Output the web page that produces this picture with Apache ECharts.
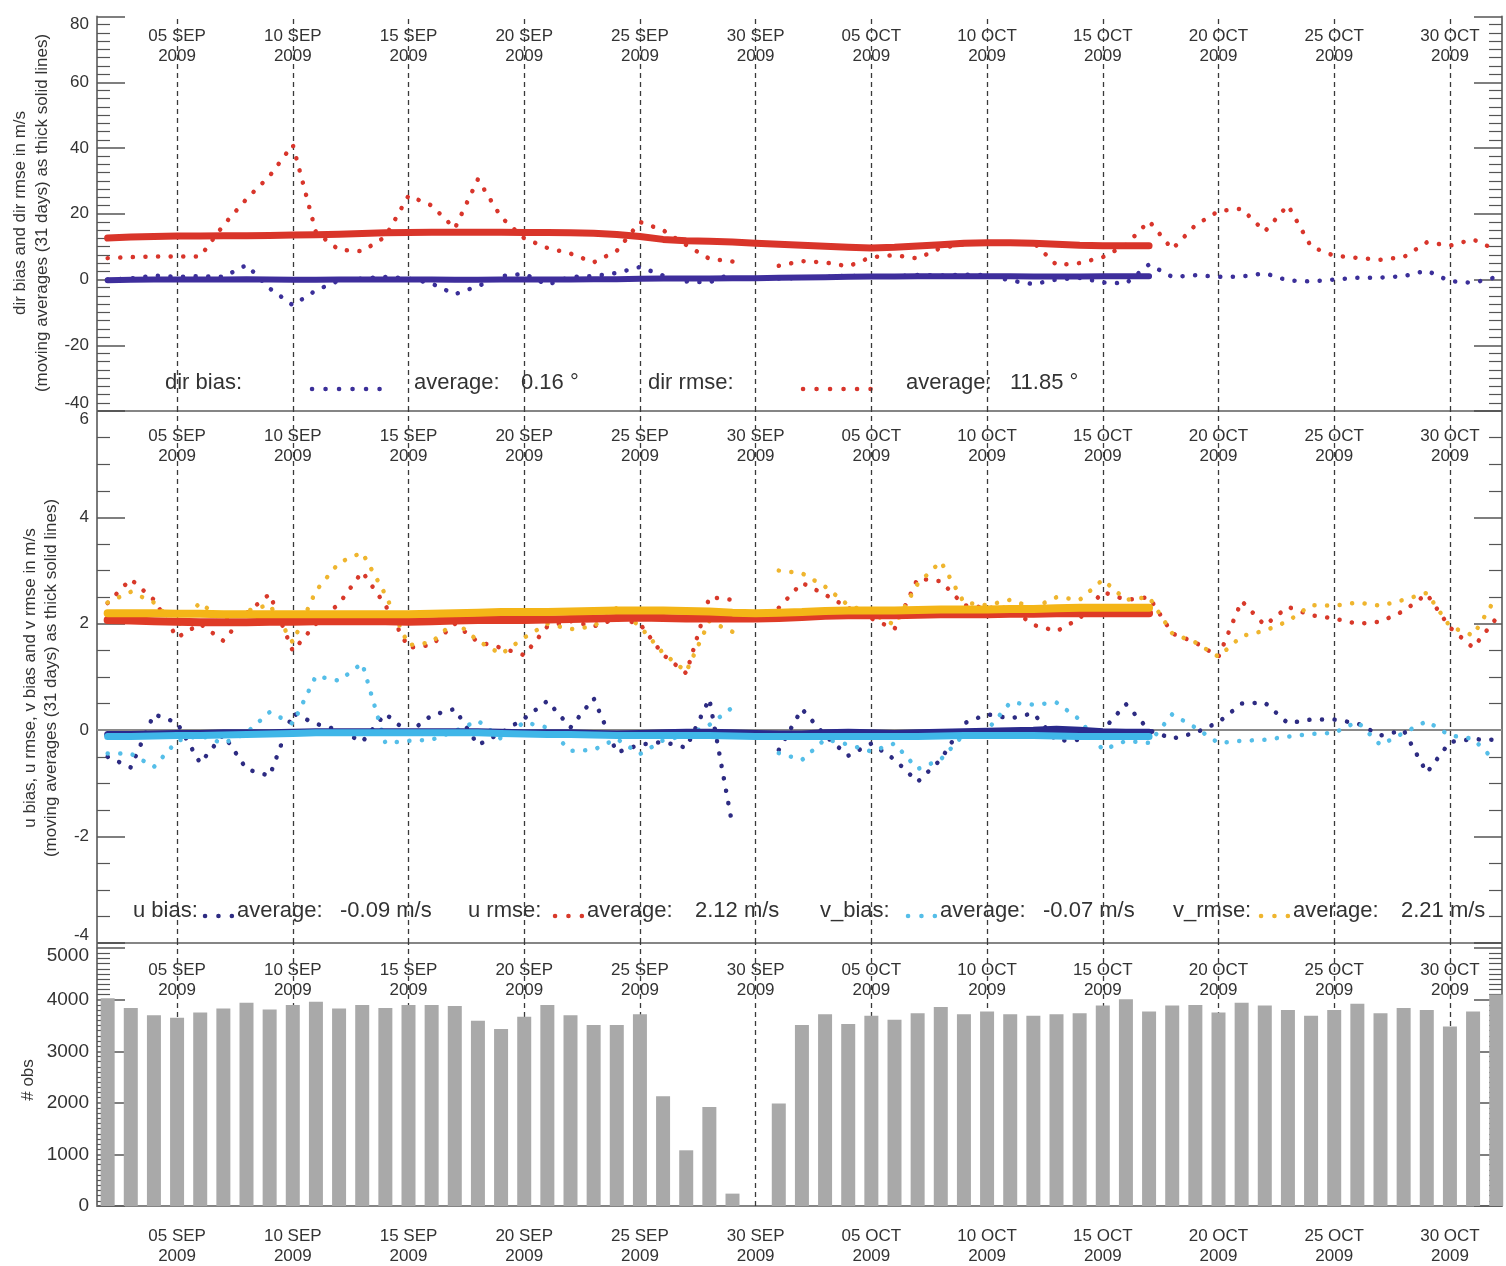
<!DOCTYPE html>
<html>
<head>
<meta charset="utf-8">
<script src="https://cdn.jsdelivr.net/npm/echarts@6/dist/echarts.min.js"></script>
<style>
  html, body { margin: 0; padding: 0; background: #fff; }
  #chart { width: 1506px; height: 1266px; }
</style>
</head>
<body>
<div id="chart"></div>
<script>
// day numbers: 1 = 01 SEP 2009, 31 = 01 OCT 2009, 62 = 01 NOV 2009
var days = [2,3,4,5,6,7,8,9,10,11,12,13,14,15,16,17,18,19,20,21,22,23,24,25,26,27,28,29,30,31,
            32,33,34,35,36,37,38,39,40,41,42,43,44,45,46,47,48,49,50,51,52,53,54,55,56,57,58,59,60,61,62];
var tickDays = [5,10,15,20,25,30,35,40,45,50,55,60];
var tickLabels = ['05 SEP','10 SEP','15 SEP','20 SEP','25 SEP','30 SEP','05 OCT','10 OCT','15 OCT','20 OCT','25 OCT','30 OCT'];

// panel 1: wind direction
var dirBias = [0.0,0.3,1.2,0.8,1.0,0.8,4.4,-2.7,-7.8,-3.3,
  -0.3,0.3,0.8,0.3,-1.2,-4.5,-2.0,1.0,1.7,-1.6,
  0.8,1.0,2.0,3.8,1.2,-0.6,-0.9,1.9,null,0.3,
  0.5,0.8,1.2,0.8,1.0,1.4,1.2,1.5,1.3,-0.3,
  -1.4,0.0,0.5,-0.9,-1.2,4.6,0.8,1.3,0.8,0.9,
  1.9,-0.3,-0.6,0.0,0.5,0.6,1.0,2.7,-0.5,-1.0,
  0.7];
var dirRmse = [6.5,6.8,7.0,7.0,7.0,16.5,24.5,31.5,41.0,14.4,
  9.0,8.6,13.0,25.5,22.5,15.5,30.5,19.0,12.5,9.6,
  7.9,5.2,8.7,17.5,15.0,10.5,6.3,5.5,null,4.2,
  5.6,5.2,4.0,6.8,7.4,6.4,9.6,10.7,11.2,11.3,
  11.3,4.4,5.0,6.8,10.5,17.8,9.2,16.5,20.8,21.5,
  14.6,22.6,10.0,7.2,6.6,6.0,6.8,11.3,10.3,12.2,
  9.0];
// 31 day moving averages, 02 SEP .. 17 OCT
var dirBiasMA = [-0.2,-0.1,0,0,0,0,0.1,0,-0.1,-0.1,0,0,0,0,0,-0.1,-0.1,0,0,0,0,0.1,0.1,0.2,0.3,
  0.3,0.3,0.4,0.4,0.5,0.6,0.7,0.8,0.9,0.9,1.0,1.0,1.0,1.0,1.0,0.9,0.9,0.9,1.0,1.0,1.0];
var dirRmseMA = [12.6,12.9,13.1,13.2,13.2,13.3,13.3,13.4,13.5,13.6,13.8,14.0,14.2,14.3,14.4,14.4,14.4,14.4,14.3,14.3,
  14.2,14.1,13.7,13.1,12.2,11.8,11.6,11.4,11.0,10.7,10.4,10.1,9.8,9.6,9.8,10.2,10.6,11.0,11.2,11.2,
  11.0,10.7,10.4,10.3,10.3,10.3];

// panel 2: u / v components
var uBias = [-0.5,-0.7,0.3,0.14,-0.62,-0.08,-0.73,-0.86,0.32,0.12,
  0.0,-0.22,0.31,-0.05,0.28,0.4,-0.28,-0.05,0.22,0.55,
  0.05,0.6,-0.42,-0.27,-0.22,-0.33,0.59,-1.8,null,-0.37,
  0.4,-0.1,-0.48,-0.25,-0.55,-0.97,-0.55,0.13,0.3,0.22,
  0.32,-0.2,-0.18,0.0,0.49,0.0,-0.16,-0.05,0.15,0.5,
  0.52,0.13,0.2,0.2,0.13,-0.1,0.0,-0.8,-0.22,-0.17,
  -0.18];
var uRmse = [2.39,2.84,2.45,1.74,2.0,1.68,2.2,2.56,1.49,2.0,
  2.38,2.98,2.35,1.55,1.6,2.0,1.66,1.55,1.41,1.95,
  2.05,1.95,2.1,2.0,1.42,1.07,2.5,2.45,null,2.3,
  2.77,2.55,2.3,2.1,1.9,2.85,2.8,2.35,2.3,2.3,
  1.98,1.86,2.1,2.6,2.45,2.5,1.82,1.65,1.38,2.43,
  1.97,2.32,2.16,2.1,2.0,2.04,2.24,2.56,1.93,1.55,
  2.1];
var vBias = [-0.44,-0.44,-0.69,-0.2,-0.1,-0.25,-0.05,0.34,0.12,1.02,
  0.93,1.26,-0.24,-0.2,-0.18,-0.02,0.18,-0.16,0.15,0.05,
  -0.39,-0.37,-0.16,-0.45,-0.19,-0.1,0.1,0.43,null,-0.43,
  -0.56,-0.17,-0.27,-0.4,-0.25,-0.73,-0.55,-0.08,0.0,0.52,
  0.48,0.52,0.2,-0.37,-0.2,-0.24,0.3,0.05,-0.24,-0.2,
  -0.18,-0.12,-0.07,-0.05,0.16,-0.28,-0.05,0.17,-0.1,-0.16,
  -0.6];
var vRmse = [2.4,2.6,2.4,1.95,2.4,2.05,2.24,2.36,1.65,2.62,
  3.15,3.34,2.55,1.6,1.65,2.05,1.68,1.43,1.74,2.0,
  1.9,1.95,2.3,1.95,1.45,1.1,2.05,1.85,null,3.0,
  2.95,2.7,2.35,2.2,1.98,2.75,3.17,2.4,2.35,2.45,
  2.3,2.5,2.45,2.83,2.45,2.5,1.82,1.65,1.38,1.77,
  1.87,2.05,2.35,2.34,2.4,2.34,2.45,2.58,1.95,1.78,
  2.5];
var uBiasMA = [-0.08,-0.08,-0.07,-0.06,-0.06,-0.05,-0.05,-0.05,-0.04,-0.03,-0.03,-0.03,-0.03,-0.03,-0.03,-0.03,-0.03,-0.04,-0.05,-0.05,
  -0.05,-0.06,-0.07,-0.06,-0.05,-0.04,-0.04,-0.05,-0.06,-0.07,-0.07,-0.05,-0.04,-0.05,-0.06,-0.05,-0.04,-0.03,-0.02,-0.01,
  0.0,0.02,0.0,-0.03,-0.04,-0.04];
var uRmseMA = [2.07,2.06,2.05,2.04,2.03,2.03,2.03,2.04,2.04,2.05,2.05,2.05,2.05,2.04,2.05,2.06,2.07,2.07,2.07,2.08,
  2.09,2.1,2.11,2.12,2.11,2.1,2.1,2.1,2.1,2.11,2.13,2.15,2.16,2.16,2.16,2.17,2.18,2.18,2.18,2.19,
  2.19,2.2,2.2,2.2,2.2,2.2];
var vBiasMA = [-0.12,-0.12,-0.11,-0.1,-0.1,-0.09,-0.08,-0.07,-0.06,-0.05,-0.05,-0.05,-0.05,-0.05,-0.05,-0.05,-0.05,-0.06,-0.07,-0.08,
  -0.08,-0.09,-0.1,-0.1,-0.1,-0.1,-0.1,-0.11,-0.12,-0.12,-0.12,-0.12,-0.12,-0.12,-0.12,-0.12,-0.11,-0.1,-0.1,-0.1,
  -0.1,-0.11,-0.12,-0.12,-0.12,-0.12];
var vRmseMA = [2.2,2.2,2.2,2.19,2.19,2.18,2.18,2.18,2.18,2.18,2.18,2.18,2.18,2.18,2.19,2.2,2.21,2.22,2.22,2.22,
  2.23,2.24,2.25,2.25,2.25,2.24,2.23,2.21,2.2,2.21,2.22,2.24,2.25,2.25,2.25,2.26,2.27,2.27,2.27,2.28,
  2.28,2.29,2.3,2.3,2.3,2.3];

// panel 3: number of observations per day
var nObs = [4030,3840,3700,3650,3750,3830,3940,3810,3900,3960,
  3830,3900,3840,3900,3900,3880,3590,3430,3670,3900,
  3700,3510,3510,3720,2130,1080,1920,240,0,1990,
  3510,3720,3530,3690,3610,3740,3860,3720,3770,3720,
  3690,3720,3740,3890,4010,3770,3890,3900,3750,3940,
  3890,3800,3690,3800,3920,3740,3840,3800,3480,3770,
  4100];

var XMIN = 1.54, XMAX = 62.25;
var FONT = '"Liberation Sans", Arial, Helvetica, sans-serif';
var TXT = '#333';

function pairs(vals) {
  return vals.map(function (v, i) { return [days[i], v == null ? '-' : v]; });
}
function dayLabel(v) {
  var i = tickDays.indexOf(Math.round(v));
  return i < 0 ? '' : tickLabels[i] + '\n2009';
}

function topAxis(g, margin) {
  return {
    gridIndex: g, type: 'value', min: XMIN, max: XMAX, position: 'top',
    axisLine: {show: false}, axisTick: {show: false}, splitLine: {show: false},
    axisLabel: {inside: true, customValues: tickDays, formatter: dayLabel, margin: margin,
      fontFamily: FONT, fontSize: 17, lineHeight: 20, color: TXT}
  };
}
function bottomAxis(g, labels) {
  return {
    gridIndex: g, type: 'value', min: XMIN, max: XMAX, position: 'bottom',
    axisLine: {show: true, onZero: false, lineStyle: {color: '#858585', width: 2}},
    axisTick: {show: false}, splitLine: {show: false},
    axisLabel: labels ? {customValues: tickDays, formatter: dayLabel, margin: 20,
      fontFamily: FONT, fontSize: 17, lineHeight: 20, color: TXT} : {show: false}
  };
}
function yAx(g, side, min, max, step, minorSplit, fontSize, fmt) {
  return {
    gridIndex: g, type: 'value', position: side, min: min, max: max, interval: step,
    axisLine: {show: true, onZero: false, lineStyle: {color: '#7a7a7a', width: 2}},
    axisTick: {show: true, inside: true, length: 28, lineStyle: {color: '#555', width: 1.5}},
    minorTick: {show: true, splitNumber: minorSplit, length: 13, lineStyle: {color: '#555', width: 1.2}},
    splitLine: {show: false},
    axisLabel: side === 'left' ? {formatter: fmt, margin: 8, fontFamily: FONT, fontSize: fontSize,
      lineHeight: 16, color: TXT} : {show: false}
  };
}
function vLines() {
  return tickDays.map(function (d) { return {xAxis: d}; });
}
function dotted(name, xi, yi, vals, color) {
  return {
    name: name, type: 'line', xAxisIndex: xi, yAxisIndex: yi, data: pairs(vals),
    showSymbol: false, z: 3, silent: true,
    lineStyle: {color: color, width: 4.5, type: [0.1, 12.5], cap: 'round'}
  };
}
function thick(name, xi, yi, vals, color, w) {
  return {
    name: name, type: 'line', xAxisIndex: xi, yAxisIndex: yi, data: pairs(vals),
    showSymbol: false, z: 4, silent: true,
    lineStyle: {color: color, width: w, cap: 'round', join: 'round'}
  };
}
function dashMarks(extra) {
  return {
    silent: true, symbol: 'none', z: 1, animation: false, label: {show: false},
    emphasis: {disabled: true},
    lineStyle: {color: '#3a3a3a', width: 1.3, type: [5, 4]},
    data: vLines().concat(extra || [])
  };
}

var chart = echarts.init(document.getElementById('chart'));

var s1 = dotted('dir rmse', 0, 0, dirRmse, '#d8352b');
s1.markLine = dashMarks();
var s2 = dotted('u bias', 2, 2, uBias, '#2d2b82');
s2.markLine = dashMarks([{yAxis: 0, lineStyle: {color: '#8a8a8a', width: 2, type: 'solid'}}]);

var legendFont = '22px ' + FONT;
function label(x, y, text) {
  return {type: 'text', x: x, y: y, silent: true,
    style: {text: text, font: legendFont, fill: TXT, verticalAlign: 'middle'}};
}
function sample(x1, x2, y, color, gap) {
  return {type: 'line', silent: true, shape: {x1: x1, y1: y, x2: x2, y2: y},
    style: {stroke: color, lineWidth: 4.5, lineDash: [0.1, gap], lineCap: 'round'}};
}

var option = {
  backgroundColor: '#fff',
  animation: false,
  textStyle: {fontFamily: FONT},
  grid: [
    {left: 97, right: 4, top: 9, height: 402},
    {left: 97, right: 4, top: 411, height: 532},
    {left: 97, right: 4, top: 943, height: 266}
  ],
  xAxis: [topAxis(0, 10), bottomAxis(0, false), topAxis(1, 15), bottomAxis(1, false), topAxis(2, 17), bottomAxis(2, true)],
  yAxis: [
    yAx(0, 'left', -40, 80, 20, 8, 17, function (v) {
      return v === 80 ? '\n80' : (v === -40 ? '-40\n' : String(v));
    }),
    yAx(0, 'right', -40, 80, 20, 8, 17),
    yAx(1, 'left', -4, 6, 2, 4, 17, function (v) {
      return v === 6 ? '\n6' : (v === -4 ? '-4\n' : String(v));
    }),
    yAx(1, 'right', -4, 6, 2, 4, 17),
    yAx(2, 'left', 0, 5100, 1000, 10, 19, function (v) {
      if (v % 1000 !== 0) return '';
      return v === 5000 ? '\n5000' : String(v);
    }),
    yAx(2, 'right', 0, 5100, 1000, 10, 19)
  ],
  series: [
    s1,
    dotted('dir bias', 0, 0, dirBias, '#3b2f99'),
    thick('dir rmse MA', 0, 0, dirRmseMA, '#d9352a', 7),
    thick('dir bias MA', 0, 0, dirBiasMA, '#3e2e9c', 6),

    s2,
    dotted('v bias', 2, 2, vBias, '#55bee8'),
    dotted('u rmse', 2, 2, uRmse, '#d8392a'),
    dotted('v rmse', 2, 2, vRmse, '#efb52e'),
    thick('u rmse MA', 2, 2, uRmseMA, '#df3b26', 8),
    thick('v rmse MA', 2, 2, vRmseMA, '#f4b517', 8),
    thick('u bias MA', 2, 2, uBiasMA, '#2a2a8c', 7),
    thick('v bias MA', 2, 2, vBiasMA, '#3fb6e8', 7),

    {
      name: '# obs', type: 'bar', xAxisIndex: 4, yAxisIndex: 4, data: pairs(nObs),
      barWidth: 14, z: 3, silent: true,
      itemStyle: {color: '#a9a9a9'},
      markLine: dashMarks()
    }
  ],
  graphic: [
    // axis names
    {type: 'text', x: 31, y: 213, rotation: Math.PI / 2, silent: true,
      style: {text: 'dir bias and dir rmse in m/s\n(moving averages (31 days) as thick solid lines)',
        font: '17px ' + FONT, fill: TXT, align: 'center', verticalAlign: 'middle', lineHeight: 22}},
    {type: 'text', x: 41, y: 678, rotation: Math.PI / 2, silent: true,
      style: {text: 'u bias, u rmse, v bias and v rmse in m/s\n(moving averages (31 days) as thick solid lines)',
        font: '17px ' + FONT, fill: TXT, align: 'center', verticalAlign: 'middle', lineHeight: 21}},
    {type: 'text', x: 28, y: 1080, rotation: Math.PI / 2, silent: true,
      style: {text: '# obs', font: '17px ' + FONT, fill: TXT, align: 'center', verticalAlign: 'middle'}},

    // panel 1 legend
    label(165, 383, 'dir bias:'),
    sample(312, 380, 389, '#3b2f99', 13.4),
    label(414, 383, 'average:'),
    label(521, 383, '0.16 \u00b0'),
    label(648, 383, 'dir rmse:'),
    sample(803, 871, 389, '#d8352b', 13.4),
    label(906, 383, 'average:'),
    label(1010, 383, '11.85 \u00b0'),

    // panel 2 legend
    label(133, 911, 'u bias:'),
    sample(205, 232, 916, '#2d2b82', 13.3),
    label(237, 911, 'average:'),
    label(340, 911, '-0.09 m/s'),
    label(468, 911, 'u rmse:'),
    sample(555, 582, 916, '#d8392a', 13.3),
    label(587, 911, 'average:'),
    label(695, 911, '2.12 m/s'),
    label(820, 911, 'v_bias:'),
    sample(908, 935, 916, '#55bee8', 13.3),
    label(940, 911, 'average:'),
    label(1043, 911, '-0.07 m/s'),
    label(1173, 911, 'v_rmse:'),
    sample(1261, 1288, 916, '#efb52e', 13.3),
    label(1293, 911, 'average:'),
    label(1401, 911, '2.21 m/s')
  ]
};

chart.setOption(option);
window.addEventListener('resize', chart.resize);
</script>
</body>
</html>
